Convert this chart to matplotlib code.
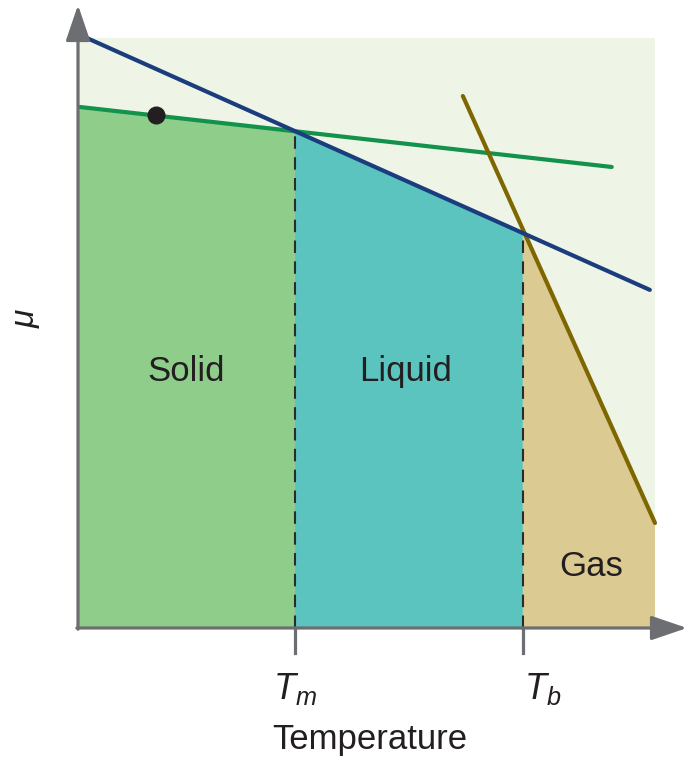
import matplotlib.pyplot as plt
from matplotlib.patches import Polygon, Rectangle

# Дані (умовні одиниці: T по горизонталі, mu по вертикалі)
T_max = 10.0          # права межа області
mu_top = 10.23        # верх світлого фону
T_m = 3.76            # температура плавлення
T_b = 7.71            # температура кипіння

solid_T = [0.03, 9.25]    # лінія твердої фази
solid_mu = [9.03, 7.99]
liquid_T = [0.12, 9.91]   # лінія рідини
liquid_mu = [10.24, 5.86]
gas_T = [6.67, 10.0]      # лінія газу
gas_mu = [9.22, 1.82]

dot_T, dot_mu = 1.35, 8.89
phase_names = ["Solid", "Liquid", "Gas"]
phase_label_T = [1.87, 5.68, 8.89]
phase_label_mu = [4.44, 4.44, 1.06]


def line_at(xs, ys, x):
    # значення прямої у точці x
    k = (ys[1] - ys[0]) / (xs[1] - xs[0])
    return ys[0] + k * (x - xs[0])


plt.rcParams['font.family'] = ['Liberation Sans', 'DejaVu Sans']
plt.rcParams['mathtext.fontset'] = 'custom'
plt.rcParams['mathtext.it'] = 'Liberation Sans:italic'
plt.rcParams['mathtext.rm'] = 'Liberation Sans'

fig = plt.figure(figsize=(6.95, 7.6), dpi=100)
ax = fig.add_axes([0, 0, 1, 1])
u = 57.7  # пікселів на одиницю
ax.set_xlim(-78 / u, (695 - 78) / u)
ax.set_ylim(-(760 - 628) / u, 628 / u)
ax.axis("off")

c_bg = "#EEF5E7"
c_solid = "#8FCD8B"
c_liquid = "#5BC4BF"
c_gas = "#DCCA93"
c_green = "#12924A"
c_blue = "#1B3D7E"
c_gold = "#7E6600"
c_axis = "#6D6E71"
c_text = "#231F20"

# фон
ax.add_patch(Rectangle((0, 0), T_max, mu_top, color=c_bg, lw=0, zorder=0))

# заливки фаз
s0 = line_at(solid_T, solid_mu, 0)
sm = line_at(solid_T, solid_mu, T_m)
ax.add_patch(Polygon([(0, 0), (0, s0), (T_m, sm), (T_m, 0)], closed=True,
                     color=c_solid, lw=0, zorder=1))
lb = line_at(liquid_T, liquid_mu, T_b)
ax.add_patch(Polygon([(T_m, 0), (T_m, sm), (T_b, lb), (T_b, 0)], closed=True,
                     color=c_liquid, lw=0, zorder=1))
gb = line_at(gas_T, gas_mu, T_b)
ge = line_at(gas_T, gas_mu, T_max)
ax.add_patch(Polygon([(T_b, 0), (T_b, gb), (T_max, ge), (T_max, 0)], closed=True,
                     color=c_gas, lw=0, zorder=1))

# лінії хімічного потенціалу
ax.plot(solid_T, solid_mu, color=c_green, lw=3, solid_capstyle="round", zorder=3)
ax.plot(liquid_T, liquid_mu, color=c_blue, lw=3, solid_capstyle="round", zorder=4)
ax.plot(gas_T, gas_mu, color=c_gold, lw=3, solid_capstyle="round", zorder=3)
ax.plot([dot_T], [dot_mu], "o", color=c_text, ms=12, zorder=5)

# пунктири
ax.plot([T_m, T_m], [0, sm], color="#2B2B2B", lw=1.5, ls=(0, (6, 4)), zorder=2)
ax.plot([T_b, T_b], [0, lb], color="#2B2B2B", lw=1.5, ls=(0, (6, 4)), zorder=2)

# осі зі стрілками
arrow = dict(arrowstyle="-|>,head_length=2.2,head_width=0.75",
             color=c_axis, lw=2.3, shrinkA=0, shrinkB=0)
ax.annotate("", xy=(0, 623 / u), xytext=(0, -0.02), arrowprops=arrow, zorder=6)
ax.annotate("", xy=(609 / u, 0), xytext=(-0.02, 0), arrowprops=arrow, zorder=6)
for t in (T_m, T_b):
    ax.plot([t, t], [0, -25 / u], color=c_axis, lw=2.3, zorder=6)

# підписи
ax.text(T_m, -1.05, "$T_m$", fontsize=26, ha="center", va="center", color=c_text)
ax.text(T_b + 0.35, -1.05, "$T_b$", fontsize=26, ha="center", va="center", color=c_text)
ax.text(5.06, -1.93, "Temperature", fontsize=25, ha="center", va="center", color=c_text)
ax.text(-0.9, 5.37, r"$\mu$", fontsize=24, ha="center", va="center", rotation=90,
        color=c_text)
for name, x, y in zip(phase_names, phase_label_T, phase_label_mu):
    ax.text(x, y, name, fontsize=25, ha="center", va="center", color=c_text)

fig.savefig("out.png", dpi=100)
